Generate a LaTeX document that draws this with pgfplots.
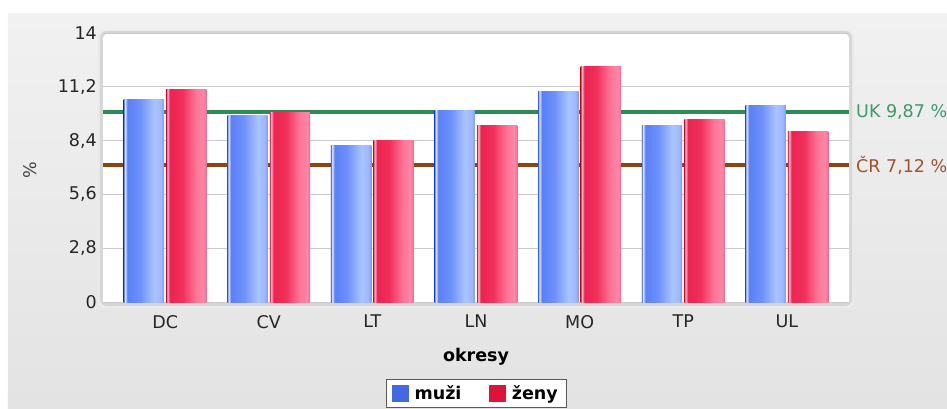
\documentclass[border=0pt]{standalone}
\usepackage{fontspec}
\setmainfont{DejaVu Sans}
\usepackage{pgfplots}
\pgfplotsset{compat=1.18}
\definecolor{panelTop}{HTML}{F1F1F1}
\definecolor{panelBot}{HTML}{E3E3E3}
\definecolor{mublue}{HTML}{4169E1}
\definecolor{zenyred}{HTML}{DC143C}
\definecolor{ukgreen}{HTML}{2E8B57}
\definecolor{ukgreentext}{HTML}{3C9A6C}
\definecolor{crbrown}{HTML}{8B4513}
\definecolor{crbrowntext}{HTML}{A0522D}
\definecolor{gridc}{HTML}{CACACA}
% blue bar stops
\definecolor{bE}{HTML}{4A6EE8}
\definecolor{bW}{HTML}{E2EAFF}
\definecolor{bM}{HTML}{5B80F7}
\definecolor{bM2}{HTML}{6D90FA}
\definecolor{bL}{HTML}{AAC4FF}
\definecolor{bL2}{HTML}{9DB8FF}
\definecolor{bR}{HTML}{7C9BF4}
% red bar stops
\definecolor{rE}{HTML}{D81C48}
\definecolor{rW}{HTML}{FFC3D2}
\definecolor{rM}{HTML}{EC2350}
\definecolor{rM2}{HTML}{F0305B}
\definecolor{rL}{HTML}{FF7698}
\definecolor{rL2}{HTML}{FF86A5}
\definecolor{rR}{HTML}{EE6A8E}
\pgfdeclarehorizontalshading{bluebar}{100bp}{color(0bp)=(bE); color(25bp)=(bE); color(26.5bp)=(bW); color(29.5bp)=(bM); color(45bp)=(bM2); color(63bp)=(bL); color(71bp)=(bL2); color(75bp)=(bR); color(100bp)=(bR)}
\pgfdeclarehorizontalshading{redbar}{100bp}{color(0bp)=(rE); color(25bp)=(rE); color(26.5bp)=(rW); color(29.5bp)=(rM); color(45bp)=(rM2); color(62bp)=(rL); color(71bp)=(rL2); color(75bp)=(rR); color(100bp)=(rR)}
\pgfplotsset{
  mubar/.style={ybar, bar width=0.39, bar shift=-0.205, draw=none, shade, shading=bluebar, forget plot},
  zbar/.style={ybar, bar width=0.39, bar shift=0.205, draw=none, shade, shading=redbar, forget plot},
}
\newcommand\chfont{\fontsize{17.5}{20}\selectfont}
\begin{document}
\begin{tikzpicture}
% grey panel
\fill[top color=panelTop, bottom color=panelBot] (-95pt,-106pt) rectangle (844pt,289pt);
% plot area shadow and background
\fill[black!8, rounded corners=8pt] (-5pt,-6pt) rectangle (751pt,272pt);
\fill[black!16, rounded corners=7pt] (-3pt,-4pt) rectangle (749pt,271pt);
\fill[white, rounded corners=6pt] (0pt,0pt) rectangle (746pt,269pt);
\fill[white] (0pt,0pt) rectangle (746pt,30pt);
\begin{axis}[
  scale only axis,
  width=746pt, height=269pt,
  xmin=-0.6, xmax=6.6,
  ymin=0, ymax=14,
  axis line style={draw=none},
  major tick length=0pt,
  xtick={0,1,2,3,4,5,6},
  xticklabels={DC,CV,LT,LN,MO,TP,UL},
  ytick={0,2.8,5.6,8.4,11.2,14},
  ymajorgrids,
  grid style={gridc, line width=0.8pt},
  tick label style={font=\chfont, text=black!85},
  xticklabel style={inner sep=0pt, yshift=-13pt},
  yticklabel style={inner sep=0pt, xshift=-6pt,
    /pgf/number format/.cd, fixed, use comma, precision=1, assume math mode=true},
  xlabel={okresy},
  ylabel={\%},
  every axis x label/.style={at={(axis description cs:0.5,0)}, anchor=center, yshift=-55pt, font=\chfont\bfseries},
  every axis y label/.style={at={(axis description cs:-0.0979,0.49)}, rotate=90, anchor=center, font=\chfont, text=black!75},
  legend columns=2,
  legend style={at={(axis description cs:0.5,0)}, anchor=north, yshift=-77pt,
    draw=black!65, fill=white, font=\chfont\bfseries,
    inner xsep=6pt, inner ysep=4pt,
    /tikz/every even column/.append style={column sep=26pt}},
  clip=false,
]
% reference lines (behind bars)
\addplot[ukgreen, line width=4pt, forget plot] coordinates {(-0.6,9.87) (6.6,9.87)};
\addplot[crbrown, line width=4pt, forget plot] coordinates {(-0.6,7.12) (6.6,7.12)};
% bars: muži (one plot per bar so each bar gets its own shading)
\addplot[mubar] coordinates {(0,10.55)};
\addplot[mubar] coordinates {(1,9.72)};
\addplot[mubar] coordinates {(2,8.13)};
\addplot[mubar] coordinates {(3,9.95)};
\addplot[mubar] coordinates {(4,10.97)};
\addplot[mubar] coordinates {(5,9.17)};
\addplot[mubar] coordinates {(6,10.22)};
% bars: ženy
\addplot[zbar] coordinates {(0,11.08)};
\addplot[zbar] coordinates {(1,9.85)};
\addplot[zbar] coordinates {(2,8.42)};
\addplot[zbar] coordinates {(3,9.17)};
\addplot[zbar] coordinates {(4,12.27)};
\addplot[zbar] coordinates {(5,9.48)};
\addplot[zbar] coordinates {(6,8.87)};
% legend
\addlegendimage{legend image code/.code={\fill[mublue] (0pt,-8pt) rectangle (16pt,8pt); \path (20pt,0pt);}}
\addlegendentry{muži}
\addlegendimage{legend image code/.code={\fill[zenyred] (0pt,-8pt) rectangle (16pt,8pt); \path (20pt,0pt);}}
\addlegendentry{ženy}
% line labels
\node[anchor=west, inner sep=0pt, xshift=7pt, text=ukgreentext, font=\chfont] at (axis cs:6.6,9.87) {UK 9,87 \%};
\node[anchor=west, inner sep=0pt, xshift=7pt, text=crbrowntext, font=\chfont] at (axis cs:6.6,7.12) {ČR 7,12 \%};
\end{axis}
\pgfresetboundingbox
\path (-103pt,-106pt) rectangle (844pt,302pt);
\end{tikzpicture}
\end{document}
